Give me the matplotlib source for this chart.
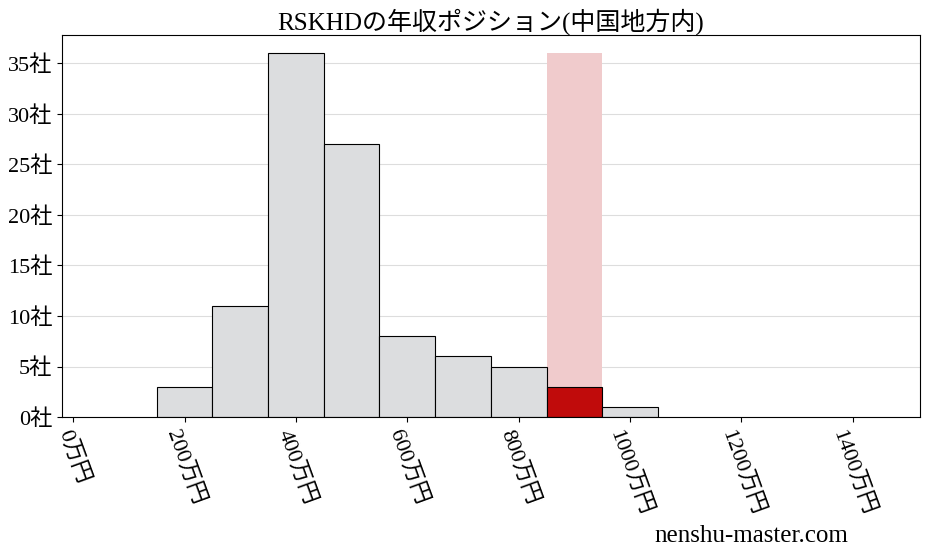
import matplotlib
matplotlib.use("Agg")
import matplotlib.pyplot as plt
import numpy as np

plt.rcParams['font.family'] = ['Liberation Serif', 'Noto Sans CJK JP', 'DejaVu Sans']

# histogram of annual income (万円) among companies in the region
bin_edges = [150, 250, 350, 450, 550, 650, 750, 850, 950, 1050]
counts = [3, 11, 36, 27, 8, 6, 5, 3, 1]
highlight_bin = 7  # RSKHD's bin (850-950)

title = "RSKHDの年収ポジション(中国地方内)"
x_ticks = [0, 200, 400, 600, 800, 1000, 1200, 1400]
y_ticks = [0, 5, 10, 15, 20, 25, 30, 35]

fig = plt.figure(figsize=(9.28, 5.57), dpi=100)
ax = fig.add_axes([0.0668, 0.2513, 0.9242, 0.6857])

lefts = np.array(bin_edges[:-1])
widths = np.diff(bin_edges)
colors = ['#dcdddf'] * len(counts)
colors[highlight_bin] = '#c00b0b'

# pink band marking the position
ax.bar(lefts[highlight_bin], max(counts), width=widths[highlight_bin], align='edge',
       color='#f0cbcc', zorder=1)
ax.bar(lefts, counts, width=widths, align='edge', color=colors,
       edgecolor='black', linewidth=0.8, zorder=2)

ax.set_xlim(-20, 1520)
ax.set_ylim(0, max(counts) * 1.05)
ax.yaxis.grid(True, color='#dddddd', linewidth=0.8, zorder=0)
ax.set_axisbelow(True)

ax.set_xticks(x_ticks)
ax.set_xticklabels([f"{v}万円" for v in x_ticks], rotation=-70, ha='center',
                   fontsize=16)
ax.set_yticks(y_ticks)
ax.set_yticklabels([f"{v}社" for v in y_ticks], fontsize=16)
ax.tick_params(axis='x', pad=4)
ax.set_title(title, fontsize=18, pad=4)

fig.text(0.914, 0.018, "nenshu-master.com", ha='right', va='bottom', fontsize=18)

fig.savefig("out.png", dpi=100)
